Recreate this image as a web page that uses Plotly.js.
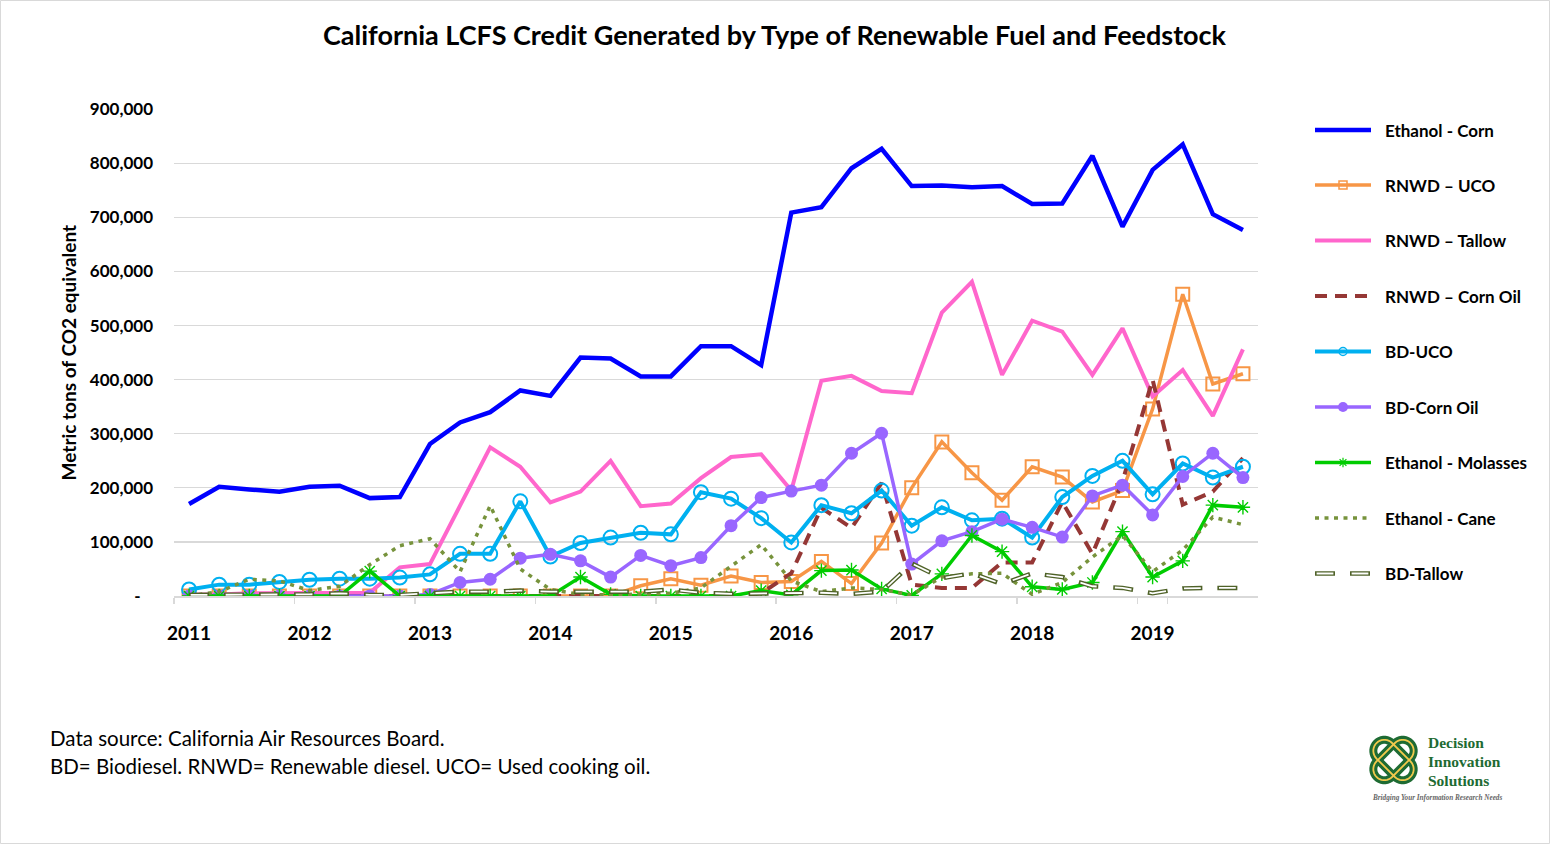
<!DOCTYPE html>
<html>
<head>
<meta charset="utf-8">
<script src="https://cdn.plot.ly/plotly-3.0.1.min.js"></script>
<style>
  html, body { margin: 0; padding: 0; background: #fff; }
  #chart { width: 1550px; height: 844px; }
</style>
</head>
<body>
<div id="chart"></div>
<script>
// ---------------- DATA ----------------
const quarters = [
  "2011 Q1","2011 Q2","2011 Q3","2011 Q4","2012 Q1","2012 Q2","2012 Q3","2012 Q4",
  "2013 Q1","2013 Q2","2013 Q3","2013 Q4","2014 Q1","2014 Q2","2014 Q3","2014 Q4",
  "2015 Q1","2015 Q2","2015 Q3","2015 Q4","2016 Q1","2016 Q2","2016 Q3","2016 Q4",
  "2017 Q1","2017 Q2","2017 Q3","2017 Q4","2018 Q1","2018 Q2","2018 Q3","2018 Q4",
  "2019 Q1","2019 Q2","2019 Q3","2019 Q4"
];
const yearTickCats = ["2011 Q1","2012 Q1","2013 Q1","2014 Q1","2015 Q1","2016 Q1","2017 Q1","2018 Q1","2019 Q1"];
const yearLabels = ["2011","2012","2013","2014","2015","2016","2017","2018","2019"];
const yTickVals = [0,100000,200000,300000,400000,500000,600000,700000,800000,900000];
const yTickText = ["-\u00a0\u00a0\u00a0","100,000","200,000","300,000","400,000","500,000","600,000","700,000","800,000","900,000"];

const ethanolCorn = [170000,202000,197000,193000,202000,204000,181000,183000,281000,321000,340000,380000,370000,441000,439000,406000,406000,462000,462000,427000,709000,719000,791000,827000,758000,759000,756000,758000,725000,726000,814000,683000,788000,835000,706000,677000];
const rnwdUco = [0,0,0,0,0,0,0,0,0,0,0,0,0,0,0,19000,32000,20000,37000,25000,27000,64000,23000,98000,200000,285000,228000,177000,239000,220000,174000,195000,346000,558000,392000,411000];
const rnwdTallow = [3000,3000,5000,5000,5000,5000,6000,53000,59000,167000,275000,239000,173000,193000,250000,166000,171000,218000,257000,262000,195000,398000,407000,379000,375000,524000,581000,409000,509000,489000,409000,495000,369000,418000,333000,456000];
const rnwdCornOil = [0,0,0,0,0,0,0,0,0,0,0,0,0,0,0,0,0,0,0,5000,42000,163000,126000,209000,21000,15000,15000,62000,62000,174000,78000,212000,400000,169000,193000,255000];
const bdUco = [12000,21000,21000,26000,30000,32000,32000,34000,40000,78000,78000,175000,73000,98000,108000,117000,114000,192000,180000,144000,99000,168000,153000,195000,130000,164000,140000,143000,108000,183000,222000,250000,188000,245000,219000,239000];
const bdCornOil = [0,0,0,0,0,0,0,0,3000,25000,31000,70000,77000,65000,35000,75000,56000,71000,130000,182000,194000,205000,264000,301000,59000,102000,119000,142000,127000,109000,185000,205000,150000,221000,264000,219000];
const ethanolMolasses = [0,0,0,0,0,0,46000,0,0,0,0,0,0,35000,3000,0,0,0,0,10000,2000,47000,48000,13000,1000,41000,112000,82000,17000,12000,25000,119000,35000,65000,168000,164000];
const ethanolCane = [0,8000,31000,28000,10000,18000,58000,93000,106000,45000,167000,50000,12000,3000,2000,3000,5000,15000,55000,95000,28000,8000,15000,12000,2000,35000,41000,42000,3000,25000,72000,112000,45000,85000,146000,132000];
const bdTallow = [2000,2000,2000,2000,3000,5000,2000,2000,5000,8000,8000,10000,8000,8000,7000,8000,12000,6000,4000,5000,6000,6000,4000,8000,60000,33000,42000,22000,42000,35000,18000,15000,5000,14000,15000,15000];

const seriesNames = ["Ethanol - Corn","RNWD \u2013 UCO","RNWD \u2013 Tallow","RNWD \u2013 Corn Oil","BD-UCO","BD-Corn Oil","Ethanol - Molasses","Ethanol - Cane","BD-Tallow"];

// ---------------- STYLES ----------------
const W = 1550, H = 844;
const C = {
  corn: "#0000FF", uco: "#F79646", tallow: "#FF66CC", cornOil: "#953735",
  bdUco: "#00B0F0", bdCorn: "#9966FF", molasses: "#00CC00", cane: "#77933C", bdTallow: "#4F6228"
};
const FONT = "Lato, 'Open Sans', sans-serif";
const DASH_OIL = "12px,8px";
const DASH_CANE = "4px,5.5px";
const DASH_TAL = "20px,15px";
const DASH_TAL_IN = "0px,1.6px,16.8px,16.6px";

function s(name, y, line, marker) {
  const t = { type: "scatter", x: quarters, y: y, name: name, xaxis: "x", yaxis: "y",
    mode: marker ? "lines+markers" : "lines", line: line, showlegend: false, hoverinfo: "x+y+name" };
  if (marker) t.marker = marker;
  return t;
}

const traces = [
  s(seriesNames[0], ethanolCorn, { color: C.corn, width: 4.5 }),
  s(seriesNames[1], rnwdUco, { color: C.uco, width: 3.5 }, { symbol: "square-open", size: 13, color: C.uco, line: { width: 2, color: C.uco } }),
  s(seriesNames[2], rnwdTallow, { color: C.tallow, width: 4 }),
  s(seriesNames[3], rnwdCornOil, { color: C.cornOil, width: 4, dash: DASH_OIL }),
  s(seriesNames[4], bdUco, { color: C.bdUco, width: 4 }, { symbol: "circle-open", size: 14, color: C.bdUco, line: { width: 2, color: C.bdUco } }),
  s(seriesNames[5], bdCornOil, { color: C.bdCorn, width: 3.5 }, { symbol: "circle", size: 13, color: C.bdCorn }),
  s(seriesNames[6], ethanolMolasses, { color: C.molasses, width: 3.5 }, { symbol: "asterisk-open", size: 12, color: C.molasses, line: { width: 1.4, color: C.molasses } }),
  s(seriesNames[7], ethanolCane, { color: C.cane, width: 3.5, dash: DASH_CANE }),
  s(seriesNames[8], bdTallow, { color: C.bdTallow, width: 4.5, dash: DASH_TAL }),
  s(seriesNames[8], bdTallow, { color: "#FFFFFF", width: 1.8, dash: DASH_TAL_IN })
];
traces[9].hoverinfo = "skip";

// ---------------- CUSTOM LEGEND (pixel overlay axes x2/y2) ----------------
const legY = [130, 185, 240.5, 296, 351.5, 407, 462.5, 518, 573.5];
const legX0 = 1315, legX1 = 1371, legXm = 1343, legTextX = 1383;
const legLines = [
  { color: C.corn, width: 4.5 },
  { color: C.uco, width: 3.5 },
  { color: C.tallow, width: 4 },
  { color: C.cornOil, width: 4, dash: DASH_OIL },
  { color: C.bdUco, width: 4 },
  { color: C.bdCorn, width: 3.5 },
  { color: C.molasses, width: 3.5 },
  { color: C.cane, width: 3.5, dash: DASH_CANE },
  { color: C.bdTallow, width: 4.5, dash: DASH_TAL }
];
const legMarkers = [
  null,
  { symbol: "square-open", size: 8, color: C.uco, line: { width: 1.5, color: C.uco } },
  null, null,
  { symbol: "circle-open", size: 8, color: C.bdUco, line: { width: 1.5, color: C.bdUco } },
  { symbol: "circle", size: 10, color: C.bdCorn },
  { symbol: "asterisk-open", size: 8, color: C.molasses, line: { width: 1.2, color: C.molasses } },
  null, null
];
const annotations = [];
for (let i = 0; i < seriesNames.length; i++) {
  traces.push({ type: "scatter", x: [legX0, legX1], y: [legY[i], legY[i]], xaxis: "x2", yaxis: "y2",
    mode: "lines", line: legLines[i], showlegend: false, hoverinfo: "skip" });
  if (i === 8) {
    traces.push({ type: "scatter", x: [legX0, legX1], y: [legY[i], legY[i]], xaxis: "x2", yaxis: "y2",
      mode: "lines", line: { color: "#FFFFFF", width: 1.8, dash: DASH_TAL_IN }, showlegend: false, hoverinfo: "skip" });
  }
  if (legMarkers[i]) {
    traces.push({ type: "scatter", x: [legXm], y: [legY[i]], xaxis: "x2", yaxis: "y2",
      mode: "markers", marker: legMarkers[i], showlegend: false, hoverinfo: "skip" });
  }
  annotations.push({ xref: "x2", yref: "y2", x: legTextX, y: legY[i], xanchor: "left", yanchor: "middle",
    text: seriesNames[i], showarrow: false, font: { family: FONT, size: 17, weight: 700, color: "#000" } });
}

// Footnotes
annotations.push({ xref: "x2", yref: "y2", x: 48, y: 738, xanchor: "left", yanchor: "middle", showarrow: false,
  text: "Data source: California Air Resources Board.", font: { family: FONT, size: 20.5, color: "#000" } });
annotations.push({ xref: "x2", yref: "y2", x: 48, y: 766, xanchor: "left", yanchor: "middle", showarrow: false,
  text: "BD= Biodiesel. RNWD= Renewable diesel. UCO= Used cooking oil.", font: { family: FONT, size: 20.5, color: "#000" } });

// Logo text
const LOGO_GREEN = "#1E6B33";
const logoWords = ["Decision", "Innovation", "Solutions"];
const logoY = [742, 761, 780];
for (let i = 0; i < 3; i++) {
  annotations.push({ xref: "x2", yref: "y2", x: 1426, y: logoY[i], xanchor: "left", yanchor: "middle", showarrow: false,
    text: logoWords[i], font: { family: "'Liberation Serif', 'DejaVu Serif', serif", size: 15.5, weight: 700, color: LOGO_GREEN } });
}
annotations.push({ xref: "x2", yref: "y2", x: 1437, y: 798, xanchor: "center", yanchor: "middle", showarrow: false,
  text: "<i><b>Bridging Your Information Research Needs</b></i>", font: { family: "'Liberation Serif', serif", size: 7.2, color: "#666" } });

// Logo knot shapes
function capsule(cx, cy, ang, L, R) {
  const pts = [];
  const ca = Math.cos(ang), sa = Math.sin(ang);
  for (let k = 0; k <= 18; k++) {
    const a = ang - Math.PI / 2 + Math.PI * k / 18;
    pts.push((cx + L * ca + R * Math.cos(a)).toFixed(2) + "," + (cy + L * sa + R * Math.sin(a)).toFixed(2));
  }
  for (let k = 0; k <= 18; k++) {
    const a = ang + Math.PI / 2 + Math.PI * k / 18;
    pts.push((cx - L * ca + R * Math.cos(a)).toFixed(2) + "," + (cy - L * sa + R * Math.sin(a)).toFixed(2));
  }
  return "M" + pts.join("L") + "Z";
}
const knotCx = 1393.5, knotCy = 760;
const shapes = [];
[Math.PI / 4, -Math.PI / 4].forEach(function (ang) {
  const p = capsule(knotCx, knotCy, ang, 13, 11);
  shapes.push({ type: "path", xref: "x2", yref: "y2", path: p, line: { color: LOGO_GREEN, width: 8 }, fillcolor: "rgba(0,0,0,0)" });
});
[Math.PI / 4, -Math.PI / 4].forEach(function (ang) {
  const p = capsule(knotCx, knotCy, ang, 13, 11);
  shapes.push({ type: "path", xref: "x2", yref: "y2", path: p, line: { color: "#F2C94C", width: 1.8 }, fillcolor: "rgba(0,0,0,0)" });
});
// Outer chart border
shapes.push({ type: "rect", xref: "x2", yref: "y2", x0: 0.5, x1: W - 0.5, y0: 0.5, y1: H - 0.5,
  line: { color: "#D9D9D9", width: 1 }, fillcolor: "rgba(0,0,0,0)", layer: "below" });

// ---------------- LAYOUT ----------------
const layout = {
  width: W, height: H,
  margin: { l: 0, r: 0, t: 0, b: 0, pad: 0 },
  paper_bgcolor: "#FFFFFF",
  plot_bgcolor: "rgba(0,0,0,0)",
  showlegend: false,
  title: {
    text: "California LCFS Credit Generated by Type of Renewable Fuel and Feedstock",
    font: { family: FONT, size: 27, weight: 700, color: "#000" },
    x: 0.4997, xref: "container", xanchor: "center",
    y: 1 - 36 / H, yref: "container", yanchor: "middle"
  },
  xaxis: {
    type: "category", domain: [174 / W, 1258 / W], range: [-0.5, 35.5], anchor: "y",
    tickmode: "array", tickvals: yearTickCats, ticktext: yearLabels, tickson: "boundaries", tickangle: 0,
    ticks: "outside", ticklen: 6, tickwidth: 1.5, tickcolor: "#D9D9D9",
    showgrid: false, showline: true, linecolor: "#D9D9D9", linewidth: 1.5, zeroline: false,
    tickfont: { family: FONT, size: 19, weight: 700, color: "#000" }, ticklabelstandoff: 20,
    fixedrange: true, automargin: false
  },
  yaxis: {
    domain: [(H - 596) / H, (H - 109.3) / H], range: [0, 900000], anchor: "x",
    tickmode: "array", tickvals: yTickVals, ticktext: yTickText,
    showgrid: true, gridcolor: "#D9D9D9", gridwidth: 1.3, zeroline: false, showline: false, ticks: "",
    tickfont: { family: FONT, size: 17, weight: 700, color: "#000" }, ticklabelstandoff: 20,
    title: { text: "Metric tons of CO2 equivalent", font: { family: FONT, size: 19, weight: 700, color: "#000" }, standoff: 8 },
    fixedrange: true, automargin: false
  },
  xaxis2: { domain: [0, 1], range: [0, W], anchor: "y2", visible: false, fixedrange: true },
  yaxis2: { domain: [0, 1], range: [H, 0], anchor: "x2", visible: false, fixedrange: true },
  annotations: annotations,
  shapes: shapes
};

Plotly.newPlot("chart", traces, layout, { displayModeBar: false, staticPlot: true });
</script>
</body>
</html>
